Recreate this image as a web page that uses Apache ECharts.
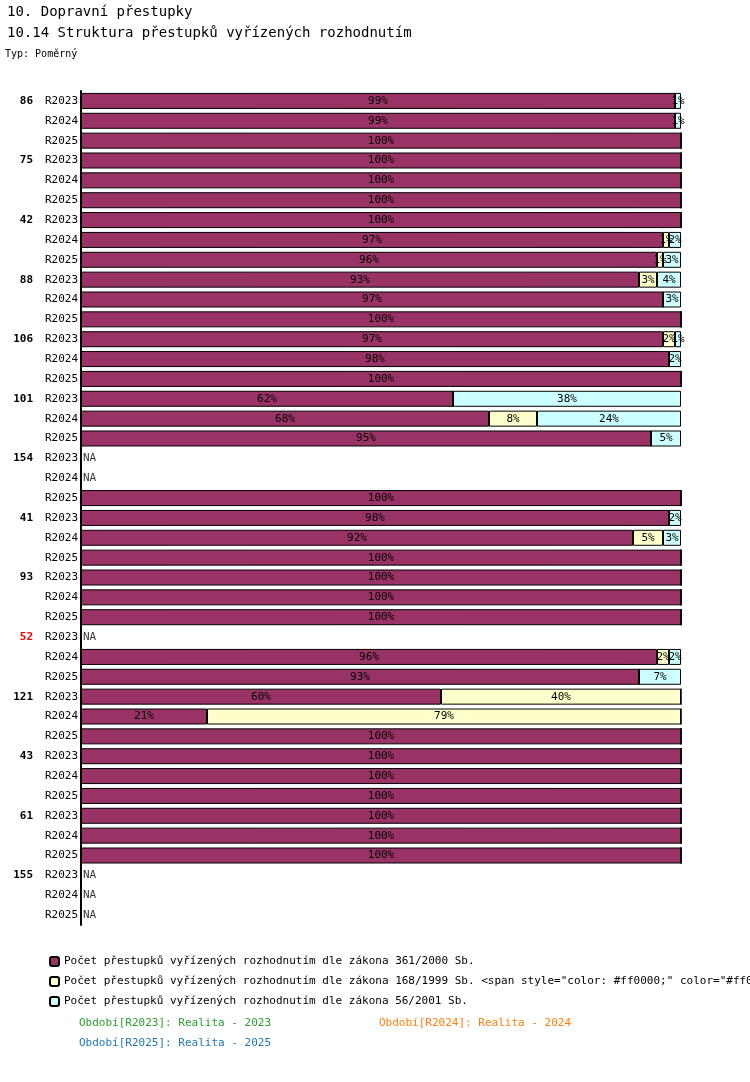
<!DOCTYPE html>
<html><head><meta charset="utf-8">
<script src="https://cdn.jsdelivr.net/npm/echarts@6/dist/echarts.min.js"></script>
<style>body{margin:0;background:#fff}#main{width:750px;height:1082px}</style>
</head><body><div id="main"></div>
<script>
var groups = ['86','75','42','88','106','101','154','41','93','52','121','43','61','155'];
groups.push(); // 14 groups listed below with data
var periods = ['R2023','R2024','R2025'];
// per group: [R2023, R2024, R2025], null = NA
var s361 = [[99,99,100],[100,100,100],[100,97,96],[93,97,100],[97,98,100],[62,68,95],[null,null,100],[98,92,100],[100,100,100],[null,96,93],[60,21,100],[100,100,100],[100,100,100],[null,null,null]];
var s168 = [[0,0,0],[0,0,0],[0,1,1],[3,0,0],[2,0,0],[0,8,0],[null,null,0],[0,5,0],[0,0,0],[null,2,0],[40,79,0],[0,0,0],[0,0,0],[null,null,null]];
var s56  = [[1,1,0],[0,0,0],[0,2,3],[4,3,0],[1,2,0],[38,24,5],[null,null,0],[2,3,0],[0,0,0],[null,2,7],[0,0,0],[0,0,0],[0,0,0],[null,null,null]];
var legendNames = ['Počet přestupků vyřízených rozhodnutím dle zákona 361/2000 Sb.',
  'Počet přestupků vyřízených rozhodnutím dle zákona 168/1999 Sb. <span style="color: #ff0000;" color="#ff0000">a dle zákona 56/2001 Sb.</span>',
  'Počet přestupků vyřízených rozhodnutím dle zákona 56/2001 Sb.'];
var colors = ['#993366','#ffffcc','#ccffff'];
var redGroups = ['52'];

var cats = [], groupLab = [];
groups.forEach(function(g){ periods.forEach(function(p,i){ cats.push(g+'|'+p); groupLab.push(i===0?g:''); }); });
function flat(a){ var r=[]; a.forEach(function(x){ x.forEach(function(v){ r.push(v); }); }); return r; }
var f = 'DejaVu Sans Mono';
var lbl = {show:true,position:'inside',color:'#000',fontFamily:f,fontSize:11,
  formatter:function(p){ return p.value ? p.value+'%' : ''; }};
var series = [s361,s168,s56].map(function(d,i){
  return {name:legendNames[i],type:'bar',stack:'a',barWidth:16,data:flat(d),label:lbl,
    itemStyle:{color:colors[i],borderColor:'#000',borderWidth:1},emphasis:{disabled:true}};
});
var na = [];
flat(s361).forEach(function(v,i){ if(v===null) na.push([0,i]); });
series.push({type:'scatter',data:na,symbolSize:0,silent:true,
  label:{show:true,position:'right',distance:2,formatter:'NA',color:'#000',fontFamily:f,fontSize:11}});

var chart = echarts.init(document.getElementById('main'));
chart.setOption({
  animation:false,
  title:[{text:'10. Dopravní přestupky',left:2,top:0,textStyle:{fontFamily:f,fontSize:14,fontWeight:'normal',color:'#000'}},
         {text:'10.14 Struktura přestupků vyřízených rozhodnutím',left:2,top:21,textStyle:{fontFamily:f,fontSize:14,fontWeight:'normal',color:'#000'}},
         {text:'Typ: Poměrný',left:0,top:44,textStyle:{fontFamily:f,fontSize:10,fontWeight:'normal',color:'#000'}}],
  legend:{orient:'vertical',left:44,top:951,itemWidth:9,itemHeight:9,itemGap:9,
    data:legendNames,textStyle:{fontFamily:f,fontSize:11,color:'#000'}},
  grid:{left:81,right:69,top:91,bottom:157},
  xAxis:{type:'value',min:0,max:100,show:false},
  yAxis:[{type:'category',inverse:true,data:cats,axisTick:{show:false},
      axisLine:{lineStyle:{color:'#000',width:2}},
      axisLabel:{fontFamily:f,fontSize:11,color:'#000',margin:3,formatter:function(v){return v.split('|')[1];}}},
    {type:'category',inverse:true,data:cats,position:'left',offset:48,axisLine:{show:false},axisTick:{show:false},
      axisLabel:{fontFamily:f,fontSize:11,fontWeight:'bold',color:'#000',margin:0,align:'right',
        formatter:function(v,i){ var g=groupLab[i]; if(!g) return ''; return redGroups.indexOf(g)>=0?'{r|'+g+'}':g; },
        rich:{r:{color:'#ff0000',fontWeight:'bold',fontFamily:f,fontSize:11}}}}],
  series:series.map(function(s){ return s; }),
  graphic:[
    {type:'text',left:79,top:1018,style:{text:'Období[R2023]: Realita - 2023',fill:'#2ca02c',font:'11px '+f}},
    {type:'text',left:379,top:1018,style:{text:'Období[R2024]: Realita - 2024',fill:'#ff7f0e',font:'11px '+f}},
    {type:'text',left:79,top:1038,style:{text:'Období[R2025]: Realita - 2025',fill:'#1f77b4',font:'11px '+f}}
  ]
});
</script></body></html>
